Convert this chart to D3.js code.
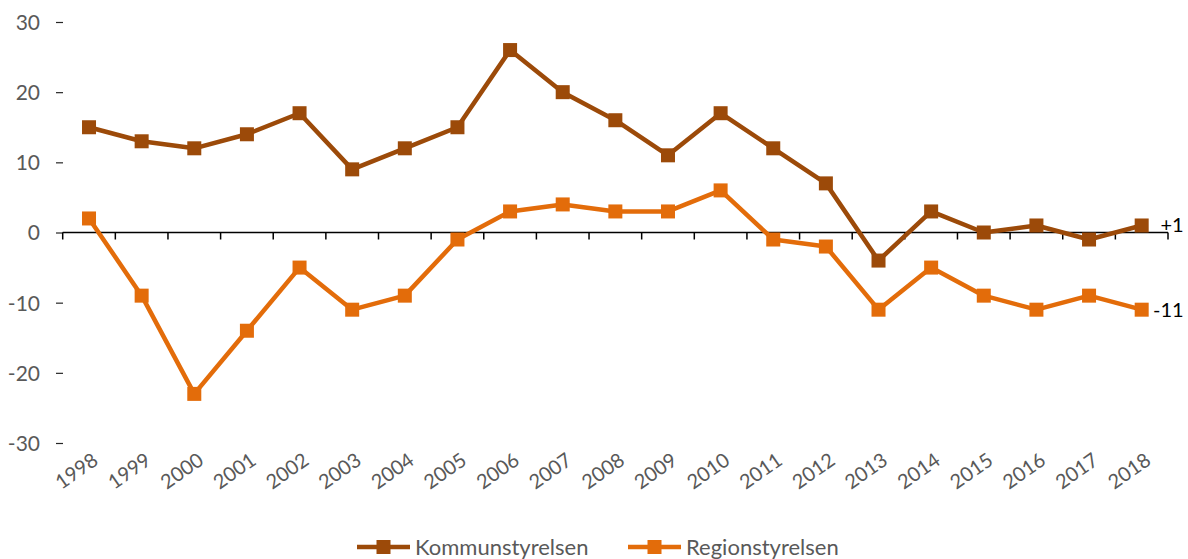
<!DOCTYPE html>
<html>
<head>
<meta charset="utf-8">
<script src="https://cdn.jsdelivr.net/npm/d3@7"></script>
<style>
  body { margin: 0; background: #fff; }
  text { font-family: Lato, "Open Sans", sans-serif; fill: #595959; }
</style>
</head>
<body>
<div id="chart"></div>
<script>
// Chart data
const years = ["1998","1999","2000","2001","2002","2003","2004","2005","2006","2007",
               "2008","2009","2010","2011","2012","2013","2014","2015","2016","2017","2018"];
const kommun = [15, 13, 12, 14, 17, 9, 12, 15, 26, 20, 16, 11, 17, 12, 7, -4, 3, 0, 1, -1, 1];
const region = [2, -9, -23, -14, -5, -11, -9, -1, 3, 4, 3, 3, 6, -1, -2, -11, -5, -9, -11, -9, -11];
const yTicks = [-30, -20, -10, 0, 10, 20, 30];
const seriesNames = ["Kommunstyrelsen", "Regionstyrelsen"];
const endLabels = ["+1", "-11"];

const width = 1188, height = 559;
const colors = ["#9C4A09", "#E36C0A"];

const svg = d3.select("#chart").append("svg")
    .attr("width", width)
    .attr("height", height);

// Scales
const x = d3.scaleBand().domain(years).range([62.7, 1168]);
const y = d3.scaleLinear().domain([-30, 30]).range([443, 22]);

// Y axis: only little tick marks + labels, no line
const yAxis = svg.append("g")
    .attr("transform", "translate(63,0)")
    .call(d3.axisLeft(y).tickValues(yTicks).tickSize(7).tickPadding(16).tickFormat(d => String(d)));
yAxis.select(".domain").remove();
yAxis.selectAll("line").attr("stroke", "#262626").attr("stroke-width", 1.2);
yAxis.selectAll("text").style("font-size", "21px").attr("fill", "#595959").attr("dy", "0.35em");

// X axis at zero with ticks between categories
const xAxis = svg.append("g").attr("transform", `translate(0,${y(0)})`);
xAxis.append("line")
    .attr("x1", x.range()[0]).attr("x2", x.range()[1])
    .attr("stroke", "#000").attr("stroke-width", 1.5);
const boundaries = years.map(d => x(d)).concat([x.range()[1]]);
xAxis.selectAll("line.tick")
    .data(boundaries)
    .join("line")
    .attr("class", "tick")
    .attr("x1", d => d).attr("x2", d => d)
    .attr("y1", 0).attr("y2", 7)
    .attr("stroke", "#000").attr("stroke-width", 1.5);

// Rotated year labels under the plot
svg.append("g").selectAll("text")
    .data(years)
    .join("text")
    .attr("transform", d => `translate(${x(d) + x.bandwidth() / 2 + 2},${451}) rotate(-35)`)
    .attr("text-anchor", "end")
    .style("font-size", "20px")
    .attr("fill", "#595959")
    .attr("dy", "0.75em")
    .text(d => d);

// Lines and markers
const line = d3.line()
    .x((d, i) => x(years[i]) + x.bandwidth() / 2)
    .y(d => y(d));

[kommun, region].forEach((vals, s) => {
    svg.append("path")
        .datum(vals)
        .attr("fill", "none")
        .attr("stroke", colors[s])
        .attr("stroke-width", 4.5)
        .attr("stroke-linejoin", "round")
        .attr("d", line);

    svg.append("g").selectAll("rect")
        .data(vals)
        .join("rect")
        .attr("x", (d, i) => x(years[i]) + x.bandwidth() / 2 - 7)
        .attr("y", d => y(d) - 7)
        .attr("width", 14).attr("height", 14)
        .attr("fill", colors[s]);

    // End value label
    const last = vals[vals.length - 1];
    svg.append("text")
        .attr("x", x(years[years.length - 1]) + x.bandwidth() / 2 + 42)
        .attr("y", y(last))
        .attr("dy", "0.35em")
        .attr("text-anchor", "end")
        .style("font-size", "20px")
        .style("fill", "#000")
        .text(endLabels[s]);
});

// Legend
const legendItems = [{x: 357, w: 53}, {x: 628, w: 53}];
const legend = svg.append("g").attr("transform", "translate(0,547)");
seriesNames.forEach((name, s) => {
    const item = legend.append("g").attr("transform", `translate(${legendItems[s].x},0)`);
    item.append("line")
        .attr("x1", 0).attr("x2", legendItems[s].w)
        .attr("stroke", colors[s]).attr("stroke-width", 4.5);
    item.append("rect")
        .attr("x", legendItems[s].w / 2 - 7).attr("y", -7)
        .attr("width", 14).attr("height", 14)
        .attr("fill", colors[s]);
    item.append("text")
        .attr("x", legendItems[s].w + 5)
        .attr("dy", "0.35em")
        .style("font-size", "22px")
        .text(name);
});
</script>
</body>
</html>
